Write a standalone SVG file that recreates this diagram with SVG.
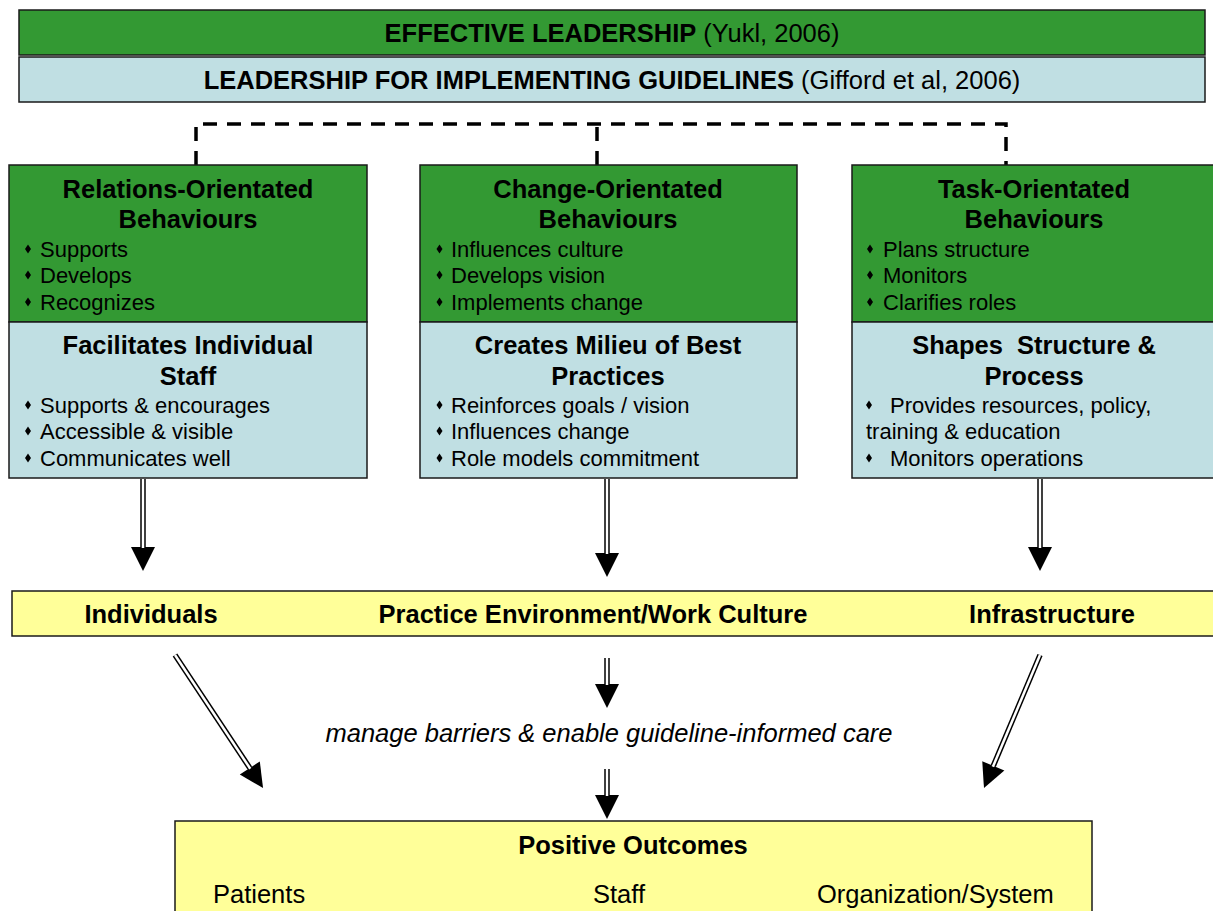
<svg xmlns="http://www.w3.org/2000/svg" width="1213" height="911" viewBox="0 0 1213 911">
<defs>
<style>
text{font-family:"Liberation Sans",Arial,Helvetica,sans-serif;fill:#000}
.big{font-size:25.5px}
.b{font-weight:bold}
.t{font-size:25.5px;font-weight:bold;text-anchor:middle}
.bl{font-size:22px}
.green{fill:#339933;stroke:#1a1a1a;stroke-width:1.5}
.blue{fill:#c0dfe3;stroke:#1a1a1a;stroke-width:1.5}
.yellow{fill:#ffff99;stroke:#1a1a1a;stroke-width:1.5}
.shaft{stroke:#000;stroke-width:5.5;fill:none;marker-end:url(#head)}
.inner{stroke:#fff;stroke-width:2.5;fill:none}
.dash{stroke:#000;stroke-width:3.5;fill:none;stroke-dasharray:14 10}
</style>
<marker id="head" markerUnits="userSpaceOnUse" markerWidth="30" markerHeight="30" refX="0" refY="0" orient="auto" overflow="visible">
<path d="M0,-12 L24,0 L0,12 Z" fill="#000"/>
</marker>
<path id="dm" d="M0,-4.5 L3,0 L0,4.5 L-3,0 Z" fill="#000"/>
</defs>

<g id="effective-leadership">
<rect class="green" x="19" y="10" width="1186" height="45"/>
<text class="big" x="612" y="42" text-anchor="middle"><tspan class="b">EFFECTIVE LEADERSHIP</tspan> (Yukl, 2006)</text>
</g>
<g id="leadership-guidelines">
<rect class="blue" x="19" y="57" width="1186" height="45"/>
<text class="big" x="612" y="89" text-anchor="middle"><tspan class="b">LEADERSHIP FOR IMPLEMENTING GUIDELINES</tspan> (Gifford et al, 2006)</text>
</g>

<g id="connectors">
<path class="dash" d="M196,165 V124 H1006 V165"/>
<path class="dash" d="M597,165 V124"/>
<line class="shaft" x1="143" y1="479" x2="143" y2="547"/>
<line class="inner" x1="143" y1="479" x2="143" y2="548"/>
<line class="shaft" x1="607" y1="479" x2="607" y2="553"/>
<line class="inner" x1="607" y1="479" x2="607" y2="554"/>
<line class="shaft" x1="1040" y1="479" x2="1040" y2="547"/>
<line class="inner" x1="1040" y1="479" x2="1040" y2="548"/>
<line class="shaft" x1="175" y1="655" x2="249.8" y2="768"/>
<line class="inner" x1="175" y1="655" x2="250.3" y2="768.8"/>
<line class="shaft" x1="1040" y1="655" x2="993.3" y2="765.9"/>
<line class="inner" x1="1040" y1="655" x2="992.9" y2="766.8"/>
<line class="shaft" x1="607" y1="658" x2="607" y2="684"/>
<line class="inner" x1="607" y1="658" x2="607" y2="685"/>
<line class="shaft" x1="607" y1="769" x2="607" y2="795"/>
<line class="inner" x1="607" y1="769" x2="607" y2="796"/>
</g>

<g id="relations-orientated">
<rect class="green" x="9" y="165" width="358" height="157"/>
<text class="t" x="188" y="198">Relations-Orientated</text>
<text class="t" x="188" y="228">Behaviours</text>
<use href="#dm" x="28" y="249"/><text class="bl" x="40" y="257">Supports</text>
<use href="#dm" x="28" y="275"/><text class="bl" x="40" y="283">Develops</text>
<use href="#dm" x="28" y="302"/><text class="bl" x="40" y="310">Recognizes</text>
</g>
<g id="facilitates-individual-staff">
<rect class="blue" x="9" y="322" width="358" height="156"/>
<text class="t" x="188" y="354">Facilitates Individual</text>
<text class="t" x="188" y="385">Staff</text>
<use href="#dm" x="28" y="405"/><text class="bl" x="40" y="413">Supports &amp; encourages</text>
<use href="#dm" x="28" y="431"/><text class="bl" x="40" y="439">Accessible &amp; visible</text>
<use href="#dm" x="28" y="458"/><text class="bl" x="40" y="466">Communicates well</text>
</g>

<g id="change-orientated">
<rect class="green" x="420" y="165" width="377" height="157"/>
<text class="t" x="608" y="198">Change-Orientated</text>
<text class="t" x="608" y="228">Behaviours</text>
<use href="#dm" x="439.5" y="249"/><text class="bl" x="451" y="257">Influences culture</text>
<use href="#dm" x="439.5" y="275"/><text class="bl" x="451" y="283">Develops vision</text>
<use href="#dm" x="439.5" y="302"/><text class="bl" x="451" y="310">Implements change</text>
</g>
<g id="creates-milieu">
<rect class="blue" x="420" y="322" width="377" height="156"/>
<text class="t" x="608" y="354">Creates Milieu of Best</text>
<text class="t" x="608" y="385">Practices</text>
<use href="#dm" x="439.5" y="405"/><text class="bl" x="451" y="413">Reinforces goals / vision</text>
<use href="#dm" x="439.5" y="431"/><text class="bl" x="451" y="439">Influences change</text>
<use href="#dm" x="439.5" y="458"/><text class="bl" x="451" y="466">Role models commitment</text>
</g>

<g id="task-orientated">
<rect class="green" x="852" y="165" width="364" height="157"/>
<text class="t" x="1034" y="198">Task-Orientated</text>
<text class="t" x="1034" y="228">Behaviours</text>
<use href="#dm" x="870" y="249"/><text class="bl" x="883" y="257">Plans structure</text>
<use href="#dm" x="870" y="275"/><text class="bl" x="883" y="283">Monitors</text>
<use href="#dm" x="870" y="302"/><text class="bl" x="883" y="310">Clarifies roles</text>
</g>
<g id="shapes-structure">
<rect class="blue" x="852" y="322" width="364" height="156"/>
<text class="t" x="1034" y="354">Shapes &#160;Structure &amp;</text>
<text class="t" x="1034" y="385">Process</text>
<use href="#dm" x="869" y="405"/><text class="bl" x="890" y="413">Provides resources, policy,</text>
<text class="bl" x="866" y="439">training &amp; education</text>
<use href="#dm" x="869" y="458"/><text class="bl" x="890" y="466">Monitors operations</text>
</g>

<g id="targets">
<rect class="yellow" x="12" y="591" width="1206" height="45"/>
<text class="t" x="151" y="623">Individuals</text>
<text class="t" x="593" y="623">Practice Environment/Work Culture</text>
<text class="t" x="1052" y="623">Infrastructure</text>
</g>

<g id="manage-barriers">
<text class="big" x="609" y="742" text-anchor="middle" font-style="italic">manage barriers &amp; enable guideline-informed care</text>
</g>

<g id="positive-outcomes">
<rect class="yellow" x="175" y="821" width="917" height="100"/>
<text class="t" x="633" y="854">Positive Outcomes</text>
<text class="big" x="213" y="903">Patients</text>
<text class="big" x="619" y="903" text-anchor="middle">Staff</text>
<text class="big" x="817" y="903">Organization/System</text>
</g>
</svg>
